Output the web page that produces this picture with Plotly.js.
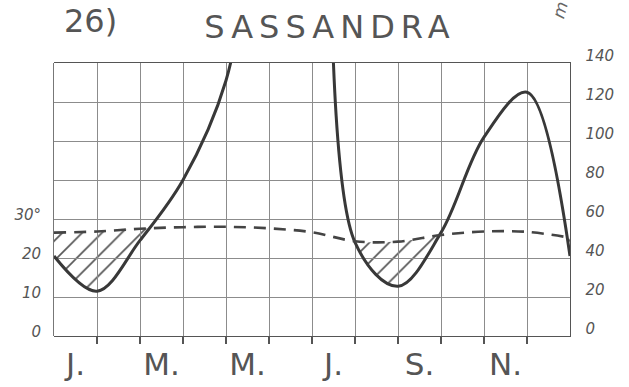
<!DOCTYPE html>
<html><head><meta charset="utf-8">
<script src="https://cdn.plot.ly/plotly-3.0.1.min.js"></script>
<style>
html,body{margin:0;padding:0;background:#fff;}
#chart{width:629px;height:387px;}
.gtitle{letter-spacing:6px;}
</style></head><body><div id="chart"></div>
<script>
// Values are drawn at month boundaries: index 0 = left edge (December carried over), 1..12 = Jan..Dec
const pointLabels = ['Dec (start)','Jan','Feb','Mar','Apr','May','Jun','Jul','Aug','Sep','Oct','Nov','Dec'];
const pointPos    = [0,1,2,3,4,5,6,7,8,9,10,11,12];
const precipMM    = [41, 23, 49, 80, 131, 260, 320, 48, 25.5, 53, 102, 125, 41];
const tempC       = [26.5, 26.8, 27.5, 27.9, 28.0, 27.6, 26.6, 24.3, 24.2, 25.9, 26.8, 26.7, 25.2];
const monthTickLabels = ['J.','M.','M.','J.','S.','N.'];
const monthTickPos    = [0.5, 2.5, 4.5, 6.5, 8.5, 10.5];
const monthBoundaries = [1,2,3,4,5,6,7,8,9,10,11];
const tempTicks    = [0,10,20,30];
const tempTickText = ['0','10','20','30°'];
const precipTicks  = [0,20,40,60,80,100,120,140];

const ink = '#444';
const gridC = '#8c8c8c';
const FONT = 'DejaVu Sans';

// precipitation expressed on the temperature scale (10 °C = 20 mm)
const precipOnTemp = precipMM.map(p => p / 2);

const traces = [
  // subplot 1 (below): hatch under temperature, then white cover under precipitation
  {x: pointPos, y: tempC, xaxis:'x', yaxis:'y', mode:'lines', line:{width:0, shape:'spline'},
   fill:'tozeroy', fillcolor:'rgba(255,255,255,0)',
   fillpattern:{shape:'/', size:14, solidity:0.12, fgcolor:'#555', bgcolor:'rgba(255,255,255,0)'},
   hoverinfo:'skip', showlegend:false},
  {x: pointPos, y: precipOnTemp, xaxis:'x', yaxis:'y', mode:'lines', line:{width:0, shape:'spline'},
   fill:'tozeroy', fillcolor:'#ffffff', hoverinfo:'skip', showlegend:false},
  // subplot 2 (above): lines
  {x: pointPos, y: tempC, xaxis:'x2', yaxis:'y3', mode:'lines',
   line:{color:ink, width:2.6, dash:'12px,8px', shape:'spline'}, showlegend:false},
  {x: pointPos, y: precipMM, xaxis:'x2', yaxis:'y2', mode:'lines',
   line:{color:'#383838', width:3, shape:'spline'}, showlegend:false}
];

const layout = {
  width:629, height:387,
  margin:{l:54, r:59, t:63, b:51},
  paper_bgcolor:'#fff', plot_bgcolor:'rgba(0,0,0,0)',
  showlegend:false,
  title:{text:'SASSANDRA', x:0.5246, xanchor:'center', xref:'container', yref:'container', y:0.930, yanchor:'middle',
         font:{family:FONT, size:32, color:'#555'}},
  xaxis:{domain:[0,1], range:[0,12], anchor:'y', showgrid:false, zeroline:false, showline:false,
         showticklabels:false, ticks:''},
  yaxis:{domain:[0,1], range:[0,70], anchor:'x', side:'left', showgrid:false, zeroline:false,
         showline:true, linecolor:'#777', linewidth:1,
         tickmode:'array', tickvals:tempTicks, ticktext:tempTickText, ticks:'',
         ticklabelstandoff:9, ticklabelshift:-4,
         tickfont:{family:FONT, size:15, color:'#555', style:'italic'}},
  xaxis2:{domain:[0,1], range:[0,12], anchor:'y2', zeroline:false,
          showline:true, mirror:true, linecolor:'#555', linewidth:1.4,
          tickmode:'array', tickvals:monthTickPos, ticktext:monthTickLabels, ticks:'', showgrid:false,
          ticklabelstandoff:0,
          tickfont:{family:FONT, size:31, color:'#555'},
          minor:{tickmode:'array', tickvals:monthBoundaries, showgrid:true, gridcolor:gridC, gridwidth:1,
                 ticks:'outside', ticklen:7, tickwidth:1.4, tickcolor:'#555'}},
  yaxis2:{domain:[0,1], range:[0,140], anchor:'x2', side:'right', zeroline:false,
          showline:true, linecolor:'#555', linewidth:1.4,
          tickmode:'array', tickvals:precipTicks, ticks:'', showgrid:true, gridcolor:gridC, gridwidth:1,
          ticklabelstandoff:11, ticklabelshift:-7,
          tickfont:{family:FONT, size:15, color:'#555', style:'italic'}},
  yaxis3:{overlaying:'y2', anchor:'x2', range:[0,70], visible:false},
  annotations:[
    {text:'26)', xref:'paper', yref:'paper', x:0.0155, y:1.154, xanchor:'left', yanchor:'middle',
     showarrow:false, font:{family:FONT, size:32, color:'#555'}},
    {text:'m', xref:'paper', yref:'paper', x:0.981, y:1.194, xanchor:'center', yanchor:'middle',
     textangle:-75, showarrow:false, font:{family:FONT, size:17, color:'#666', style:'italic'}}
  ]
};

Plotly.newPlot('chart', traces, layout, {staticPlot:true, displayModeBar:false});
</script></body></html>
